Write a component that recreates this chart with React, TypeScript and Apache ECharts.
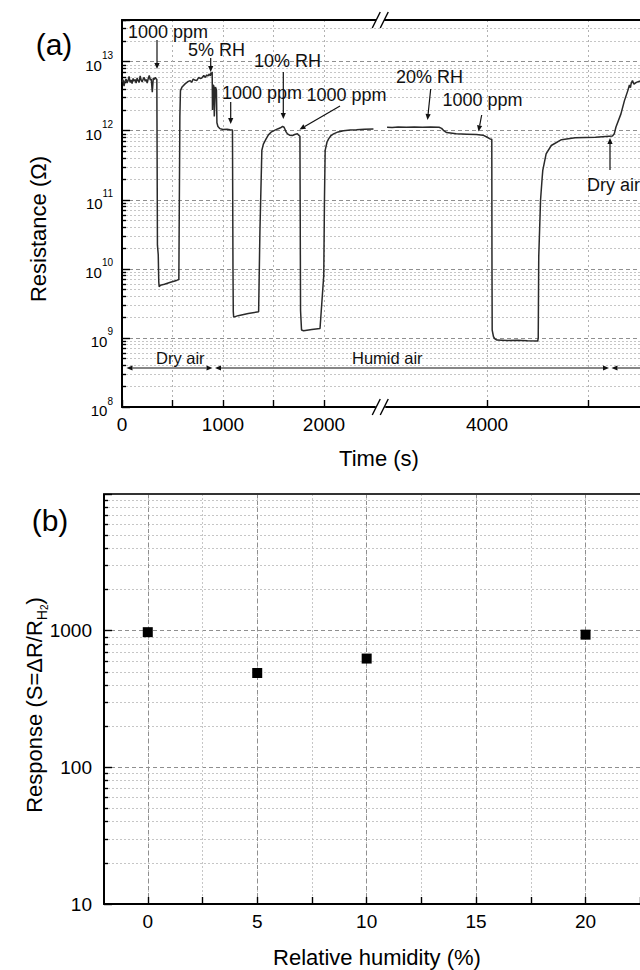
import React, { useEffect, useRef } from 'react';
import * as echarts from 'echarts';

const FONT = '"Liberation Sans", Arial, Helvetica, sans-serif';

// ---------- Panel (a): resistance vs time ----------
const time = [
  0, 10, 20, 30, 40, 50, 60, 70, 80, 90, 100, 110, 120, 130, 140, 150, 160, 170, 180, 190,
  200, 210, 220, 230, 240, 250, 260, 270, 280, 290, 300, 310, 320, 330, 340, 345,
  351, 359, 364, 368, 380, 420, 480, 540, 563, 571, 573, 579, 595, 627, 650, 676, 690, 705,
  720, 740, 760, 774, 790, 810, 825, 839, 850, 865, 875, 881, 888, 893, 896, 902, 910, 914,
  925, 935, 940, 950, 970, 1000, 1040, 1070, 1094, 1099, 1102, 1106, 1150, 1250, 1353, 1366,
  1385, 1400, 1427, 1450, 1476, 1510, 1541, 1570, 1590, 1605, 1625, 1639, 1660, 1688, 1710,
  1737, 1750, 1762, 1765, 1768, 1778, 1798, 1880, 1961, 1998, 2005, 2012, 2030, 2046, 2070,
  2095, 2140, 2192, 2260, 2322, 2400, 2490, 2600,
  3010, 3060, 3120, 3200, 3280, 3360, 3440, 3525, 3550, 3575, 3600, 3694, 3800, 3896, 3960,
  3997, 4030, 4047, 4049, 4051, 4064, 4080, 4098, 4200, 4300, 4400, 4502, 4507, 4512, 4530,
  4545, 4552, 4585, 4636, 4737, 4872, 5074, 5242, 5260, 5276, 5326, 5360, 5394, 5410, 5420,
  5427, 5440, 5455, 5478, 5510, 5545, 5600, 5700,
];
const resistance = [
  5.1e12, 5.5e12, 4.4e12, 5.2e12, 5.6e12, 4.9e12, 5.3e12, 6.1e12, 5.0e12, 5.4e12, 4.8e12,
  5.7e12, 5.2e12, 5.5e12, 4.9e12, 5.8e12, 5.3e12, 5.0e12, 6.2e12, 5.4e12, 5.1e12, 5.6e12,
  5.9e12, 5.2e12, 5.5e12, 4.9e12, 5.7e12, 6.3e12, 5.4e12, 5.6e12, 3.6e12, 5.8e12, 5.5e12,
  5.9e12, 5.6e12, 5.5e12,
  2.2e10, 1.6e10, 6.5e9, 5.5e9, 5.8e9, 6.0e9, 6.4e9, 6.8e9, 7.0e9, 5.2e11, 1.6e12, 3.8e12,
  4.3e12, 4.8e12, 5.1e12, 5.3e12, 5.0e12, 5.6e12, 5.4e12, 5.3e12, 5.9e12, 5.7e12, 5.8e12,
  6.3e12, 5.9e12, 6.4e12, 6.2e12, 6.6e12, 6.2e12, 6.9e12, 6.5e12, 7.1e12, 2.0e12, 4.6e12,
  4.4e12, 1.6e12, 4.3e12, 3.9e12, 1.3e12, 1.15e12, 1.07e12, 1.04e12, 1.05e12, 1.03e12,
  1.02e12, 1.0e10, 2.4e9, 2.0e9, 2.1e9, 2.25e9, 2.4e9, 3.6e10,
  5.2e11, 6.4e11, 7.6e11, 8.7e11, 9.5e11, 1.01e12, 1.06e12, 1.1e12, 1.15e12, 1.12e12,
  9.6e11, 9.0e11, 8.6e11, 8.5e11, 8.8e11, 9.0e11, 8.6e11, 8.3e11, 5.0e10, 2.5e9, 1.3e9,
  1.27e9, 1.32e9, 1.37e9, 8.0e9, 1.0e11, 5.2e11, 6.8e11, 7.6e11, 8.5e11, 9.0e11, 9.6e11,
  1.0e12, 1.02e12, 1.03e12, 1.05e12, 1.06e12, null,
  1.12e12, 1.11e12, 1.13e12, 1.12e12, 1.13e12, 1.12e12, 1.13e12, 1.12e12, 1.08e12, 9.9e11,
  9.4e11, 9.0e11, 8.9e11, 8.8e11, 8.6e11, 8.1e11, 7.6e11, 7.5e11, 1.0e10, 1.3e9, 1.04e9,
  9.6e8, 9.3e8, 9.2e8, 9.25e8, 9.1e8, 9.0e8, 1.0e9, 1.5e10, 1.0e11, 2.0e11, 2.66e11, 4.6e11,
  6.1e11, 7.4e11, 7.9e11, 8.05e11, 8.4e11, 9.0e11, 1.12e12, 1.75e12, 2.7e12, 3.8e12, 4.6e12,
  4.2e12, 4.8e12, 5.3e12, 4.7e12, 5.0e12, 5.2e12, 5.1e12, 5.3e12, 5.2e12,
];

const timeRange = [0, 6000];
const timeBreak = { start: 2500, end: 3000, gap: 115 };
const timeLabelValues = [0, 1000, 2000, 4000];
const timeTickValues = [0, 500, 1000, 1500, 2000, 4000, 5000, 6000];
const resistanceRange = [1e8, 4e13];
const resistanceDecades = [8, 9, 10, 11, 12, 13];

// ---------- Panel (b): response vs relative humidity ----------
const humidity = [0, 5, 10, 20];
const response = [975, 490, 625, 935];

const humidityRange = [-2, 25];
const humidityLabelValues = [0, 5, 10, 15, 20];
const humidityMajorValues = [0, 5, 10, 15, 20, 25];
const humidityTickValues = [0, 2.5, 5, 7.5, 10, 12.5, 15, 17.5, 20, 22.5, 25];
const responseRange = [10, 10000];
const responseDecades = [1, 2, 3];

const mantissas = [2, 3, 4, 5, 6, 7, 8, 9];
const minorLog = (decades: number[]) => {
  const out: number[] = [];
  decades.forEach((e) => mantissas.forEach((m) => out.push(e + Math.log10(m))));
  return out;
};

const powLabel = (v: number) => {
  const e = Math.log10(v);
  const r = Math.round(e);
  if (Math.abs(e - r) > 1e-6) return '';
  return `{b|10}{s|${r}}`;
};
const plainLogLabel = (v: number) => {
  const e = Math.log10(v);
  const r = Math.round(e);
  if (Math.abs(e - r) > 1e-6 || v >= 10000) return '';
  return String(Math.round(v));
};
const plainLabel = (v: number) => String(v);

const BLACK = '#000';
const tickStyle = { color: BLACK, width: 1.4 };
const majorGrid = { color: '#8f8f8f', type: [4, 3] as number[], width: 1 };
const minorGrid = { color: '#c6c6c6', type: [2, 2] as number[], width: 1 };
const vGrid = { color: '#b2b2b2', type: [2, 3] as number[], width: 1 };
const shownLine = () => ({ show: true, onZero: false, lineStyle: { color: BLACK, width: 2 } });
const hiddenLine = () => ({ show: false, onZero: false });

// ---------- annotations (pixel layout) ----------
const annotationTexts = [
  { text: '1000 ppm', x: 128, y: 32, size: 18 },
  { text: '5% RH', x: 188, y: 50, size: 18 },
  { text: '1000 ppm', x: 222, y: 93, size: 18 },
  { text: '10% RH', x: 254, y: 61, size: 18 },
  { text: '1000 ppm', x: 306.5, y: 95, size: 18 },
  { text: '20% RH', x: 396, y: 77, size: 18 },
  { text: '1000 ppm', x: 442.5, y: 100, size: 18 },
  { text: 'Dry air', x: 587, y: 185, size: 18 },
  { text: 'Dry air', x: 156, y: 358, size: 16.5 },
  { text: 'Humid air', x: 352, y: 358, size: 16.5 },
];
const arrows = [
  [157, 40, 157, 69],
  [210.7, 58, 210.7, 72],
  [230.7, 102, 230.7, 124],
  [283.3, 72, 283.3, 119],
  [340, 106, 299.5, 129.5],
  [430.7, 89, 427.5, 120],
  [481.7, 115, 478.5, 131.5],
  [610, 170, 610, 138],
];
const spanY = 368;
const spans = [
  [126.5, 212.5],
  [215, 609],
  [611.5, 705],
];
const panelBFrame = { left: 104, top: 494, bottom: 904 };

const INK = '#111';

function head(x1: number, y1: number, x2: number, y2: number, L = 6, W = 2.6) {
  const dx = x2 - x1;
  const dy = y2 - y1;
  const len = Math.hypot(dx, dy) || 1;
  const ux = dx / len;
  const uy = dy / len;
  const bx = x2 - ux * L;
  const by = y2 - uy * L;
  return {
    bx,
    by,
    points: [
      [x2, y2],
      [bx - uy * W, by + ux * W],
      [bx + uy * W, by - ux * W],
    ],
  };
}

function buildGraphics(cx: number) {
  const els: any[] = [];
  // left frame of panel (b)
  els.push({
    type: 'rect', z: 300, silent: true,
    shape: { x: panelBFrame.left - 1, y: panelBFrame.top, width: 2, height: panelBFrame.bottom - panelBFrame.top },
    style: { fill: BLACK },
  });
  annotationTexts.forEach((a) => {
    els.push({
      type: 'text', x: a.x, y: a.y, z: 100, silent: true,
      style: { text: a.text, fontSize: a.size, fontFamily: FONT, fill: INK, align: 'left', verticalAlign: 'middle' },
    });
  });
  arrows.forEach(([x1, y1, x2, y2]) => {
    const h = head(x1, y1, x2, y2);
    els.push({ type: 'line', z: 100, silent: true, shape: { x1, y1, x2: h.bx, y2: h.by }, style: { stroke: INK, lineWidth: 1.2 } });
    els.push({ type: 'polygon', z: 100, silent: true, shape: { points: h.points }, style: { fill: INK } });
  });
  spans.forEach(([xa, xb]) => {
    const h1 = head(xb, spanY, xa, spanY, 6, 2.4);
    const h2 = head(xa, spanY, xb, spanY, 6, 2.4);
    els.push({ type: 'line', z: 100, silent: true, shape: { x1: h1.bx, y1: spanY, x2: h2.bx, y2: spanY }, style: { stroke: INK, lineWidth: 1.2 } });
    els.push({ type: 'polygon', z: 100, silent: true, shape: { points: h1.points }, style: { fill: INK } });
    els.push({ type: 'polygon', z: 100, silent: true, shape: { points: h2.points }, style: { fill: INK } });
  });
  // axis break marks "//"
  [20, 407].forEach((y) => {
    els.push({
      type: 'polygon', z: 101, silent: true,
      shape: { points: [[cx - 8, y + 8], [cx, y - 8], [cx + 8, y - 8], [cx, y + 8]] },
      style: { fill: '#fff' },
    });
    els.push({ type: 'line', z: 102, silent: true, shape: { x1: cx - 8, y1: y + 8, x2: cx, y2: y - 8 }, style: { stroke: BLACK, lineWidth: 1.4 } });
    els.push({ type: 'line', z: 102, silent: true, shape: { x1: cx, y1: y + 8, x2: cx + 8, y2: y - 8 }, style: { stroke: BLACK, lineWidth: 1.4 } });
  });
  // panel labels and axis titles
  els.push({ type: 'text', x: 54, y: 44, z: 100, silent: true, style: { text: '(a)', fontSize: 30, fontFamily: FONT, fill: BLACK, align: 'center', verticalAlign: 'middle' } });
  els.push({ type: 'text', x: 50, y: 520, z: 100, silent: true, style: { text: '(b)', fontSize: 30, fontFamily: FONT, fill: BLACK, align: 'center', verticalAlign: 'middle' } });
  els.push({ type: 'text', x: 38, y: 229, rotation: Math.PI / 2, z: 100, silent: true, style: { text: 'Resistance (Ω)', fontSize: 22, fontFamily: FONT, fill: BLACK, align: 'center', verticalAlign: 'middle' } });
  els.push({ type: 'text', x: 379, y: 458, z: 100, silent: true, style: { text: 'Time (s)', fontSize: 22, fontFamily: FONT, fill: BLACK, align: 'center', verticalAlign: 'middle' } });
  els.push({
    type: 'text', x: 34, y: 705, rotation: Math.PI / 2, z: 100, silent: true,
    style: {
      text: 'Response (S=ΔR/R{h|H}{t|2})', fontSize: 22, fontFamily: FONT, fill: BLACK, align: 'center', verticalAlign: 'middle', lineHeight: 30,
      rich: {
        h: { fontSize: 14, fontFamily: FONT, fill: BLACK, verticalAlign: 'bottom' },
        t: { fontSize: 10, fontFamily: FONT, fill: BLACK, verticalAlign: 'bottom' },
      },
    },
  });
  els.push({ type: 'text', x: 377, y: 957, z: 100, silent: true, style: { text: 'Relative humidity (%)', fontSize: 22, fontFamily: FONT, fill: BLACK, align: 'center', verticalAlign: 'middle' } });
  return els;
}

const option: any = {
  animation: false,
  backgroundColor: '#fff',
  textStyle: { fontFamily: FONT },
  grid: [
    { left: 122, top: 20, width: 567, height: 387, containLabel: false, outerBoundsMode: 'none' },
    { left: panelBFrame.left, top: panelBFrame.top, width: 591, height: panelBFrame.bottom - panelBFrame.top, containLabel: false, outerBoundsMode: 'none' },
  ],
  xAxis: [
    {
      type: 'value', gridIndex: 0, position: 'bottom', min: timeRange[0], max: timeRange[1],
      breaks: [{ start: timeBreak.start, end: timeBreak.end, gap: timeBreak.gap }],
      breakArea: { show: false },
      axisLine: shownLine(),
      axisTick: { show: true, inside: true, length: 7, customValues: timeTickValues, lineStyle: tickStyle },
      axisLabel: { show: true, customValues: timeLabelValues, formatter: plainLabel, margin: 8, fontSize: 19, fontFamily: FONT, color: BLACK },
      splitLine: { show: true, lineStyle: vGrid },
    },
    {
      type: 'value', gridIndex: 0, position: 'top', min: timeRange[0], max: timeRange[1],
      axisLine: shownLine(),
      axisTick: { show: false }, axisLabel: { show: false }, splitLine: { show: false },
    },
    {
      type: 'value', gridIndex: 1, position: 'bottom', min: humidityRange[0], max: humidityRange[1],
      axisLine: shownLine(),
      axisTick: { show: true, inside: true, length: 7, customValues: humidityTickValues, lineStyle: tickStyle },
      axisLabel: { show: true, customValues: humidityLabelValues, formatter: plainLabel, margin: 8, fontSize: 19, fontFamily: FONT, color: BLACK },
      splitLine: { show: true, lineStyle: minorGrid },
    },
    {
      type: 'value', gridIndex: 1, position: 'bottom', min: humidityRange[0], max: humidityRange[1],
      axisLine: hiddenLine(), axisLabel: { show: false },
      axisTick: { show: false, customValues: humidityMajorValues },
      splitLine: { show: true, lineStyle: majorGrid },
    },
    {
      type: 'value', gridIndex: 1, position: 'top', min: humidityRange[0], max: humidityRange[1],
      axisLine: { show: true, onZero: false, lineStyle: { color: '#333', width: 2.2 } },
      axisTick: { show: false }, axisLabel: { show: false }, splitLine: { show: false },
    },
  ],
  yAxis: [
    {
      type: 'log', logBase: 10, gridIndex: 0, position: 'left', min: resistanceRange[0], max: resistanceRange[1],
      axisLine: shownLine(),
      axisTick: { show: true, inside: true, length: 8, lineStyle: tickStyle },
      axisLabel: {
        show: true, margin: 9, formatter: powLabel,
        rich: {
          b: { fontSize: 15, fontFamily: FONT, color: BLACK, lineHeight: 22, verticalAlign: 'bottom' },
          s: { fontSize: 10, fontFamily: FONT, color: BLACK, verticalAlign: 'top' },
        },
      },
      splitLine: { show: true, lineStyle: majorGrid },
    },
    {
      type: 'value', gridIndex: 0, position: 'left', min: resistanceDecades[0], max: Math.log10(resistanceRange[1]),
      axisLine: hiddenLine(), axisLabel: { show: false },
      axisTick: { show: true, inside: true, length: 4, customValues: minorLog(resistanceDecades), lineStyle: tickStyle },
      splitLine: { show: true, lineStyle: minorGrid },
    },
    {
      type: 'log', logBase: 10, gridIndex: 1, position: 'left', min: responseRange[0], max: responseRange[1],
      axisLine: shownLine(),
      axisTick: { show: true, inside: true, length: 8, lineStyle: tickStyle },
      axisLabel: { show: true, margin: 12, formatter: plainLogLabel, fontSize: 19, fontFamily: FONT, color: BLACK },
      splitLine: { show: true, lineStyle: majorGrid },
    },
    {
      type: 'value', gridIndex: 1, position: 'left', min: Math.log10(responseRange[0]), max: Math.log10(responseRange[1]),
      axisLine: hiddenLine(), axisLabel: { show: false },
      axisTick: { show: true, inside: true, length: 4, customValues: minorLog(responseDecades), lineStyle: tickStyle },
      splitLine: { show: true, lineStyle: minorGrid },
    },
  ],
  series: [
    {
      type: 'line', xAxisIndex: 0, yAxisIndex: 0,
      data: time.map((t, i) => [t, resistance[i]]),
      showSymbol: false, symbol: 'none', connectNulls: false, silent: true,
      lineStyle: { color: '#2a2a2a', width: 1.5 },
      z: 5,
    },
    {
      type: 'scatter', xAxisIndex: 2, yAxisIndex: 2,
      data: humidity.map((h, i) => [h, response[i]]),
      symbol: 'rect', symbolSize: 10, itemStyle: { color: BLACK, opacity: 1 }, silent: true, z: 5,
    },
  ],
};

export default function App() {
  const ref = useRef<HTMLDivElement>(null);
  useEffect(() => {
    if (!ref.current) return;
    const chart = echarts.init(ref.current, null, { renderer: 'svg' });
    chart.setOption(option);
    let cx = 384;
    try {
      const a = chart.convertToPixel({ xAxisIndex: 0 } as any, timeBreak.start) as any;
      const b = chart.convertToPixel({ xAxisIndex: 0 } as any, timeBreak.end) as any;
      if (typeof a === 'number' && typeof b === 'number' && isFinite(a) && isFinite(b)) cx = (a + b) / 2;
    } catch (e) {
      // keep default
    }
    chart.setOption({ graphic: buildGraphics(cx) });
    return () => chart.dispose();
  }, []);
  return (
    <div style={{ position: 'absolute', left: 0, top: 0, width: 640, height: 970, overflow: 'hidden', background: '#fff' }}>
      <div ref={ref} style={{ width: 720, height: 970 }} />
    </div>
  );
}
